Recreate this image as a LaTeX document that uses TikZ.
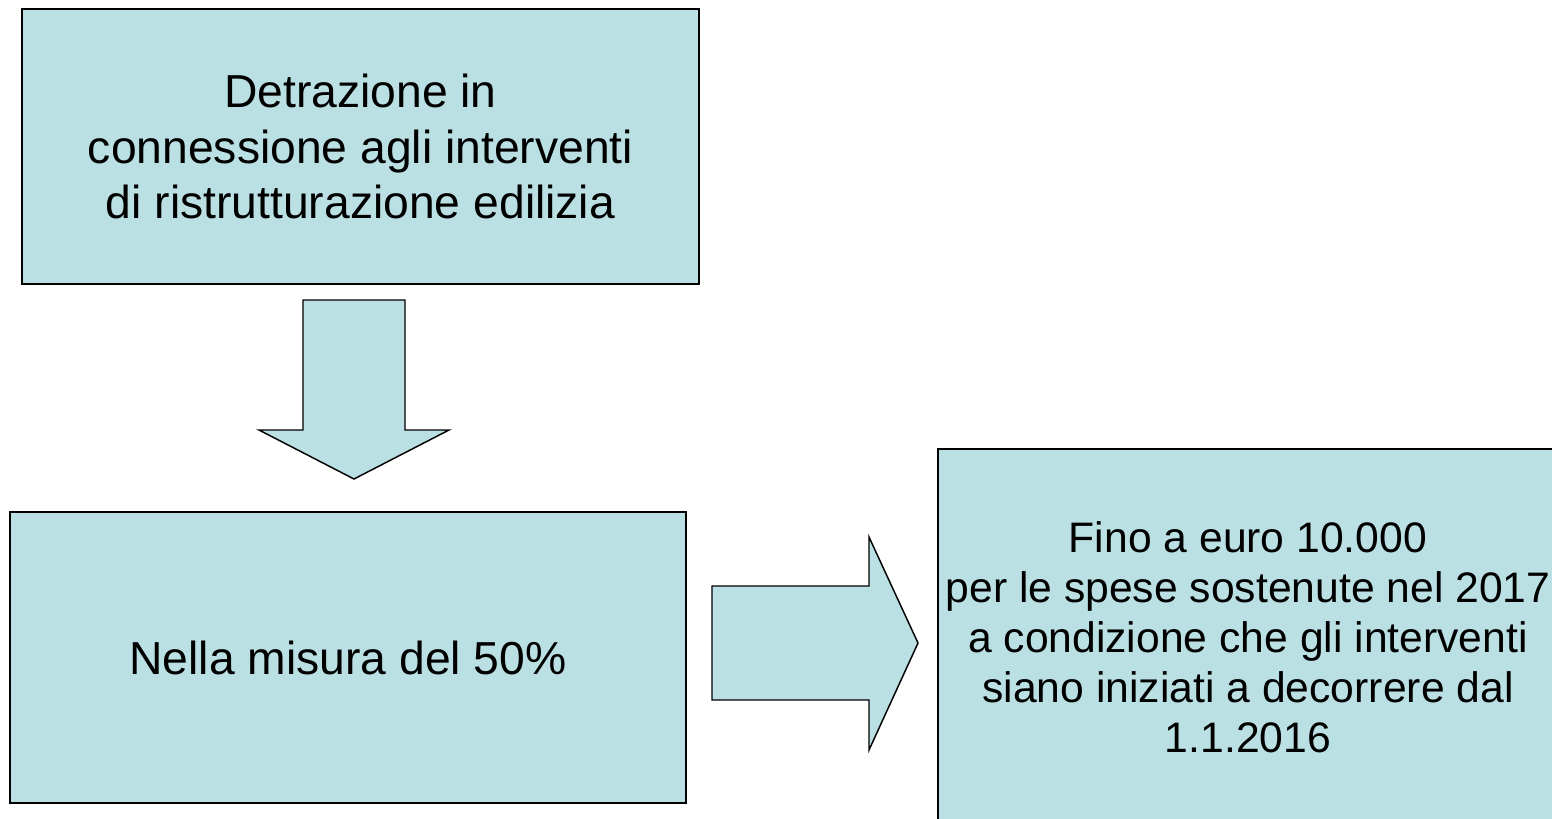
\documentclass[tikz,border=0pt]{standalone}
\usepackage{fontspec}
\setmainfont{Liberation Sans}
\usetikzlibrary{calc}
\definecolor{boxfill}{HTML}{BBE0E3}
\tikzset{
  box/.style={draw=black,fill=boxfill,line width=1.1pt,inner sep=0pt,align=center},
  bigarrow/.style={draw=black,fill=boxfill,line width=1.1pt,line join=miter}
}

\begin{document}
\begin{tikzpicture}[x=0.75pt,y=-0.75pt]
\useasboundingbox (0,0) rectangle (1552,818);
\clip (0,0) rectangle (1552,818);
\node[box,minimum width=677*0.75pt,minimum height=275*0.75pt,
  font=\fontsize{34.7pt}{41.6pt}\selectfont] (detr) at (360.5,146.5)
  {Detrazione in\\connessione agli interventi\\di ristrutturazione edilizia};
\node[box,minimum width=676*0.75pt,minimum height=291*0.75pt,
  font=\fontsize{34.7pt}{41.6pt}\selectfont] (misura) at (348,657.5)
  {Nella misura del 50\%};
\node[box,minimum width=620*0.75pt,minimum height=376*0.75pt,
  font=\fontsize{32pt}{37.5pt}\selectfont] (fino) at (1248,637)
  {Fino a euro 10.000\\per le spese sostenute nel 2017\\a condizione che gli interventi\\siano iniziati a decorrere dal\\1.1.2016};
% down arrow
\coordinate (d) at (354,300);
\draw[bigarrow] (d) ++(-51,0) -- ++(102,0) -- ++(0,130) -- ++(44,0)
  -- (354,479) -- (259,430) -- ++(44,0) -- cycle;
% right arrow
\coordinate (r) at (712,643);
\draw[bigarrow] (r) ++(0,-57) -- ++(157,0) -- ++(0,-49) -- (918,643)
  -- (869,750) -- ++(0,-50) -- ++(-157,0) -- cycle;
\end{tikzpicture}
\end{document}
